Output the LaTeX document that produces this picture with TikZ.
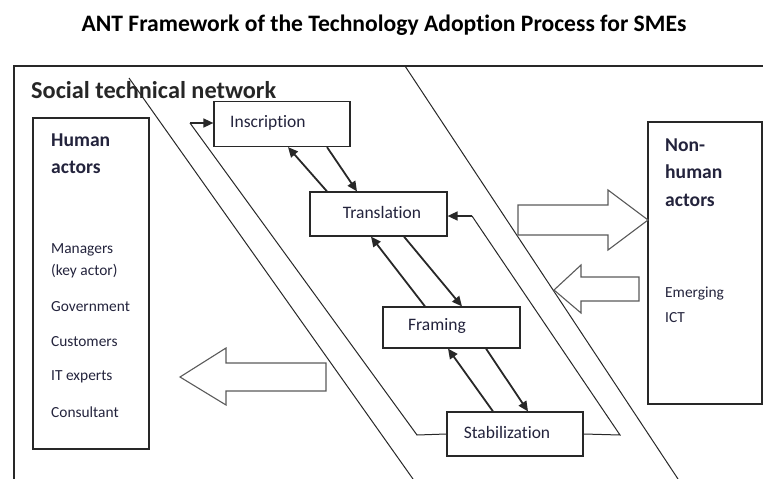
\documentclass[tikz,border=0pt]{standalone}
\usepackage{fontspec}
\setmainfont{Carlito}[Ligatures={NoCommon}]
\usetikzlibrary{arrows.meta,calc}
\definecolor{txt}{RGB}{35,35,60}
\definecolor{ln}{RGB}{40,40,40}
\definecolor{blk}{RGB}{90,90,90}
\tikzset{
  box/.style={draw=ln,line width=1.2pt,minimum width=#1,inner sep=0pt},
  lbl/.style={text=txt,font=\fontsize{17.5}{19}\selectfont,inner sep=0pt},
  item/.style={text=txt,font=\fontsize{15.4}{17}\selectfont,inner sep=0pt,anchor=west},
  head/.style={text=txt,font=\bfseries\fontsize{19.6}{21}\selectfont,inner sep=0pt,anchor=west},
  flow/.style={draw=ln,line width=1.8pt,-{Triangle[length=10pt,width=9pt]}},
  thin/.style={draw=ln,line width=1pt},
  blockarrow/.style={draw=blk,line width=1.1pt,fill=white},
}
\begin{document}
\begin{tikzpicture}[x=1pt,y=-1pt]
\useasboundingbox (0,0) rectangle (763,479);
% title
\node[font=\bfseries\fontsize{23.6}{26}\selectfont,inner sep=0pt] (title) at (384,25) {ANT Framework of the Technology Adoption Process for SMEs};
% frame
\coordinate (fbl) at (14,479);
\coordinate (ftl) at (14,66);
\coordinate (ftr) at (763,66);
\draw[draw=ln,line width=1.2pt] (fbl) -- (ftl) -- (ftr);
\node[text=black!85,font=\bfseries\fontsize{24.3}{26}\selectfont,inner sep=0pt,anchor=west] (stn) at (31,90) {Social technical network};
% long diagonals
\coordinate (dl1) at (129,78); \coordinate (dl2) at (413,479);
\coordinate (dr1) at (405,66); \coordinate (dr2) at (678,479);
\draw[thin] (dl1) -- (dl2);
\draw[thin] (dr1) -- (dr2);
% human actors
\node[box=116pt,minimum height=331pt] (hum) at (91,283.5) {};
\node[head] (h1) at (51,140) {Human};
\node[head] (h2) at (51,167) {actors};
\node[item] (i1) at (51,250) {Managers};
\node[item] (i2) at (51,271) {(key actor)};
\node[item] (i3) at (51,307) {Government};
\node[item] (i4) at (51,342) {Customers};
\node[item] (i5) at (51,377) {IT experts};
\node[item] (i6) at (51,412) {Consultant};
% non-human actors
\node[box=114pt,minimum height=282pt] (non) at (705,263) {};
\node[head] (n1) at (665,145) {Non-};
\node[head] (n2) at (665,172) {human};
\node[head] (n3) at (665,200) {actors};
\node[item] (n4) at (665,294) {Emerging};
\node[item] (n5) at (665,318) {ICT};
% process boxes
\node[box=136pt,minimum height=45pt,fill=white] (ins) at (282,124) {};
\node[lbl,anchor=west] (insl) at (230,123) {Inscription};
\node[box=137pt,minimum height=44pt,fill=white] (tra) at (378.5,214) {};
\node[lbl] (tral) at (382,212) {Translation};
\node[box=137pt,minimum height=41pt,fill=white] (fra) at (451.5,327.5) {};
\node[lbl] (fral) at (437,326) {Framing};
\node[box=136pt,minimum height=44pt,fill=white] (sta) at (515,434) {};
\node[lbl] (stal) at (507,432) {Stabilization};
% flows between boxes
\draw[flow] ([xshift=45pt]ins.south) -- ([xshift=-21.5pt]tra.north);
\draw[flow] ([xshift=-51.5pt]tra.north) -- ([xshift=6pt]ins.south);
\draw[flow] ([xshift=25.5pt]tra.south) -- ([xshift=10.5pt]fra.north);
\draw[flow] ([xshift=-26.5pt]fra.north) -- ([xshift=-7.5pt]tra.south);
\draw[flow] ([xshift=34.5pt]fra.south) -- ([xshift=13pt]sta.north);
\draw[flow] ([xshift=-22pt]sta.north) -- ([xshift=-3.5pt]fra.south);
% feedback loops
\coordinate (fl1) at (417,435);
\coordinate (fl2) at (190,123);
\draw[thin] (sta.west |- 0,434) -- (fl1) -- (fl2);
\draw[flow,line width=1.6pt] (fl2) -- (ins.west |- fl2);
\coordinate (fr1) at (620,435);
\coordinate (fr2) at (472,216);
\draw[thin] (sta.east |- 0,434) -- (fr1) -- (fr2);
\draw[flow,line width=1.6pt] (fr2) -- (tra.east |- fr2);
% block arrows
\draw[blockarrow] (518,205) -- (608,205) -- (608,190) -- (648,220) -- (608,250) -- (608,235) -- (518,235) -- cycle;
\draw[blockarrow] (639,277) -- (581,277) -- (581,265) -- (554,290) -- (581,313) -- (581,301) -- (639,301) -- cycle;
\draw[blockarrow] (326,363) -- (226,363) -- (226,348) -- (180,377) -- (226,405) -- (226,391) -- (326,391) -- cycle;
\end{tikzpicture}
\end{document}
